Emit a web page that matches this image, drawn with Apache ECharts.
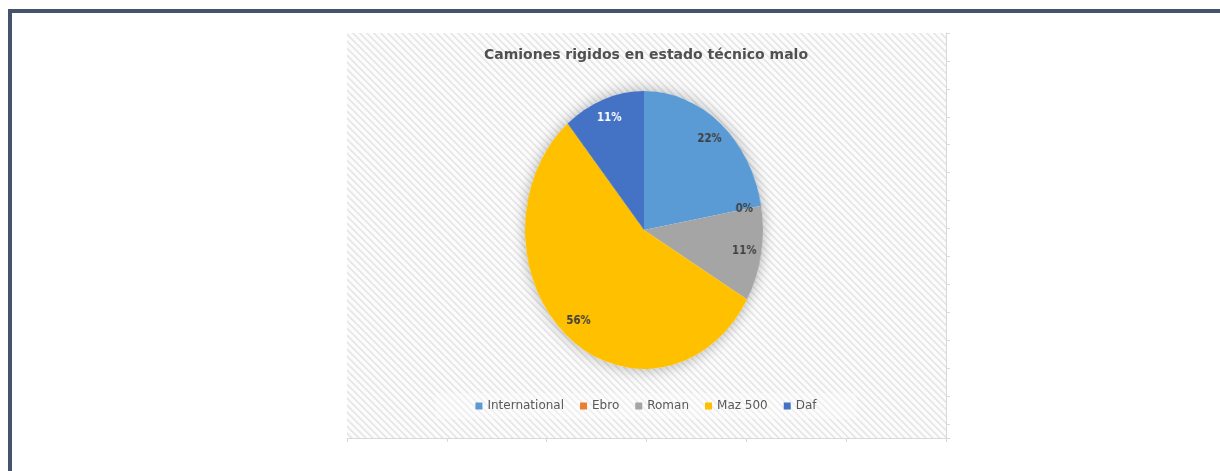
<!DOCTYPE html>
<html>
<head>
<meta charset="utf-8">
<script src="https://cdn.jsdelivr.net/npm/echarts@6/dist/echarts.min.js"></script>
<style>
	html, body { margin: 0; padding: 0; background: #fff; width: 1220px; height: 471px; overflow: hidden; }
	#frame { position: absolute; left: 8px; top: 9px; width: 1220px; height: 480px; border-top: 4px solid #44546a; border-left: 4px solid #44546a; }
	#frameChart { position: absolute; left: 340px; top: 28px; width: 612px; height: 420px; }
	#pieChart { position: absolute; left: 464px; top: 50px; width: 360px; height: 360px; transform: scaleX(0.856); transform-origin: 50% 50%; }
</style>
</head>
<body>
<div id="frame"></div>
<div id="frameChart"></div>
<div id="pieChart"></div>
<script>
const title = 'Camiones rigidos en estado técnico malo'
const categories = ['International', 'Ebro', 'Roman', 'Maz 500', 'Daf']
const counts = [2, 0, 1, 5, 1]
const sliceColors = ['#5b9bd5', '#ed7d31', '#a5a5a5', '#ffc000', '#4472c4']
const labelColors = ['#404040', '#404040', '#404040', '#404040', '#ffffff']

// light diagonal hatch used by the plot area
function hatchTile() {
	const s = 7
	const c = document.createElement('canvas')
	c.width = s
	c.height = s
	const ctx = c.getContext('2d')
	const img = ctx.createImageData(s, s)
	for (let y = 0; y < s; y++) {
		for (let x = 0; x < s; x++) {
			const d = (((x - y) % s) + s) % s
			const v = d < 2 ? 231 : d === 2 ? 242 : 252
			const i = (y * s + x) * 4
			img.data[i] = img.data[i + 1] = img.data[i + 2] = v
			img.data[i + 3] = 255
		}
	}
	ctx.putImageData(img, 0, 0)
	return c
}

const slices = categories.map((name, i) => ({
	name,
	value: counts[i],
	itemStyle: { color: sliceColors[i] },
	label: { color: labelColors[i] },
}))

const frameChart = echarts.init(document.getElementById('frameChart'), null, { renderer: 'canvas' })
frameChart.setOption({
	animation: false,
	title: {
		text: title,
		left: 'center',
		top: 20,
		padding: 0,
		textStyle: { color: '#505050', fontSize: 14, fontWeight: 'bold', fontFamily: 'DejaVu Sans' },
	},
	legend: {
		data: categories,
		left: 'center',
		top: 365,
		padding: [7, 40],
		backgroundColor: 'rgba(255,255,255,0.35)',
		icon: 'rect',
		itemWidth: 7,
		itemHeight: 7,
		itemGap: 16,
		textStyle: { color: '#595959', fontSize: 12, fontFamily: 'DejaVu Sans' },
	},
	grid: {
		show: true,
		left: 7,
		top: 5,
		width: 599,
		height: 405,
		borderWidth: 0,
		backgroundColor: { image: hatchTile(), repeat: 'repeat' },
	},
	xAxis: {
		type: 'value',
		position: 'bottom',
		min: 0,
		max: 6,
		interval: 1,
		axisLabel: { show: false },
		splitLine: { show: false },
		axisLine: { onZero: false, lineStyle: { color: '#d9d9d9' } },
		axisTick: { length: 4, lineStyle: { color: '#d9d9d9' } },
	},
	yAxis: {
		type: 'value',
		position: 'right',
		inverse: true,
		min: 0,
		max: 14.5,
		interval: 1,
		axisLabel: { show: false },
		splitLine: { show: false },
		axisLine: { show: true, onZero: false, lineStyle: { color: '#d9d9d9' } },
		axisTick: { show: true, length: 4, lineStyle: { color: '#d9d9d9' } },
	},
	series: [
		{
			// carries the legend entries only, the visible pie is drawn in #pieChart
			type: 'pie',
			radius: 0,
			silent: true,
			label: { show: false },
			data: slices,
		},
	],
})

const pieChart = echarts.init(document.getElementById('pieChart'), null, { renderer: 'canvas' })
pieChart.setOption({
	animation: false,
	series: [
		{
			type: 'pie',
			radius: 139,
			silent: true,
			label: { show: false },
			itemStyle: { color: '#ffffff', shadowBlur: 16, shadowColor: 'rgba(0,0,0,0.3)' },
			data: [{ value: 1, name: 'shadow' }],
		},
		{
			type: 'pie',
			radius: 139,
			startAngle: 90,
			silent: true,
			label: { show: false },
			data: slices,
		},
		{
			type: 'pie',
			radius: [93, 139],
			startAngle: 90,
			silent: true,
			percentPrecision: 0,
			itemStyle: { color: 'rgba(0,0,0,0)' },
			label: {
				show: true,
				position: 'inside',
				formatter: '{d}%',
				fontSize: 12,
				fontWeight: 'bold',
				fontFamily: 'DejaVu Sans',
			},
			data: slices.map((s) => ({ name: s.name, value: s.value, label: s.label, itemStyle: { color: 'rgba(0,0,0,0)' } })),
		},
	],
})
</script>
</body>
</html>
